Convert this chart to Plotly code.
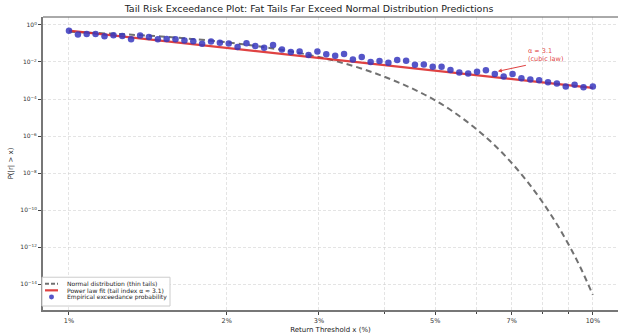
import plotly.graph_objects as go

# Empirical exceedance points (x in %, probability)
emp_x = [1.000, 1.040, 1.081, 1.124, 1.169, 1.216, 1.264, 1.314, 1.367, 1.421,
         1.478, 1.536, 1.597, 1.661, 1.727, 1.795, 1.867, 1.941, 2.018, 2.098,
         2.182, 2.268, 2.358, 2.452, 2.550, 2.651, 2.756, 2.866, 2.980, 3.098,
         3.222, 3.350, 3.483, 3.621, 3.765, 3.915, 4.071, 4.232, 4.401, 4.575,
         4.757, 4.947, 5.143, 5.348, 5.560, 5.781, 6.011, 6.250, 6.499, 6.757,
         7.026, 7.305, 7.596, 7.897, 8.211, 8.538, 8.877, 9.230, 9.597, 10.000]
emp_y = [0.494, 0.302, 0.329, 0.329, 0.248, 0.280, 0.257, 0.171, 0.267, 0.227,
         0.171, 0.177, 0.171, 0.144, 0.130, 0.0957, 0.127, 0.108, 0.0993, 0.0636,
         0.104, 0.072, 0.0583, 0.0815, 0.0473, 0.0343, 0.037, 0.0237, 0.037, 0.0261,
         0.0217, 0.0268, 0.0137, 0.0185, 0.00997, 0.0113, 0.00915, 0.0128, 0.0117, 0.00715,
         0.00742, 0.00558, 0.00558, 0.00371, 0.00273, 0.00235, 0.00301, 0.00353, 0.00226, 0.00162,
         0.00226, 0.00131, 0.00112, 0.00103, 0.000802, 0.000683, 0.000472, 0.000582, 0.000433, 0.000472]

# Power-law fit line (endpoints)
power_x = [1.0, 10.0]
power_y = [0.49, 4.0e-4]

# Normal distribution curve
normal_x = [1.0, 1.5, 2.0, 2.5, 3.0, 3.5, 4.0, 4.5, 5.0, 5.5, 6.0, 6.5, 7.0,
            7.5, 8.0, 8.5, 9.0, 9.5, 10.0]
normal_y = [0.43, 0.238, 0.115, 0.049, 0.0185, 0.0059, 1.6e-3, 3.9e-4, 8.5e-5,
            1.5e-5, 2.3e-6, 3.1e-7, 3.5e-8, 3.4e-9, 2.9e-10, 2.1e-11, 1.3e-12,
            6.5e-14, 2.6e-15]

x_tick_vals = [1, 2, 3, 5, 7, 10]
x_tick_text = ["1%", "2%", "3%", "5%", "7%", "10%"]
x_minor_vals = [4, 6, 8, 9]
y_tick_vals = [1, 1e-2, 1e-4, 1e-6, 1e-8, 1e-10, 1e-12, 1e-14]
y_tick_text = ["10<sup>0</sup>", "10<sup>\u22122</sup>", "10<sup>\u22124</sup>", "10<sup>\u22126</sup>",
               "10<sup>\u22128</sup>", "10<sup>\u221210</sup>", "10<sup>\u221212</sup>", "10<sup>\u221214</sup>"]

series_names = ["Normal distribution (thin tails)",
                "Power law fit (tail index \u03b1 \u2248 3.1)",
                "Empirical exceedance probability"]

FONT = "DejaVu Sans"
GRAY = "rgba(105,105,105,0.95)"
RED = "rgba(220,45,45,0.9)"
BLUE = "rgba(55,55,190,0.85)"

W, H = 618, 334
ML, MR, MT, MB = 43, 0, 17, 22


def px(xp):
    return (xp - ML) / (W - ML - MR)


def py(yp):
    return (H - MB - yp) / (H - MT - MB)


fig = go.Figure()
fig.add_trace(go.Scatter(
    x=normal_x, y=normal_y, mode="lines", line_shape="spline",
    name=series_names[0], showlegend=False,
    line=dict(color=GRAY, width=2, dash="6px,4px")))
fig.add_trace(go.Scatter(
    x=power_x, y=power_y, mode="lines",
    name=series_names[1], showlegend=False,
    line=dict(color=RED, width=2.2)))
fig.add_trace(go.Scatter(
    x=emp_x, y=emp_y, mode="markers",
    name=series_names[2], showlegend=False,
    marker=dict(color=BLUE, size=6.5, line=dict(width=0))))

fig.add_annotation(
    x=0.8187, y=-2.505, xref="x", yref="y",
    text="\u03b1 \u2248 3.1<br>(cubic law)",
    showarrow=True, arrowhead=2, arrowsize=0.8, arrowwidth=1,
    arrowcolor=RED,
    ax=28, ay=-6, xanchor="left", yanchor="bottom", align="left",
    font=dict(family=FONT, size=6.5, color=RED))

# manual compact legend
shapes = [
    dict(type="rect", xref="paper", yref="paper", x0=px(42), x1=px(170), y0=py(308), y1=py(279),
         fillcolor="rgba(255,255,255,0.9)", line=dict(color="#ccc", width=1), layer="above"),
    dict(type="line", xref="paper", yref="paper", x0=px(45), x1=px(58), y0=py(285.5), y1=py(285.5),
         line=dict(color=GRAY, width=2, dash="4px,2px"), layer="above"),
    dict(type="line", xref="paper", yref="paper", x0=px(45), x1=px(58), y0=py(292.2), y1=py(292.2),
         line=dict(color=RED, width=2.2), layer="above"),
    dict(type="circle", xref="paper", yref="paper", x0=px(49), x1=px(54), y0=py(301.5), y1=py(296.5),
         fillcolor=BLUE, line=dict(width=0), layer="above"),
    # thin top spine
    dict(type="line", xref="paper", yref="paper", x0=0, x1=1, y0=1, y1=1,
         line=dict(color="#555", width=1)),
]
for name, yp in zip(series_names, [285.5, 292.2, 299]):
    fig.add_annotation(x=px(65), y=py(yp), xref="paper", yref="paper", text=name,
                       showarrow=False, xanchor="left", yanchor="middle",
                       font=dict(family=FONT, size=6, color="#222"))

grid_color = "rgba(205,205,205,0.55)"
fig.update_layout(
    width=W, height=H,
    margin=dict(l=ML, r=MR, t=MT, b=MB),
    paper_bgcolor="white", plot_bgcolor="white",
    font=dict(family=FONT, size=7, color="#333"),
    title=dict(text="Tail Risk Exceedance Plot: Fat Tails Far Exceed Normal Distribution Predictions",
               x=0.5, xanchor="center", y=1 - 9 / H, yanchor="middle",
               font=dict(family=FONT, size=9.5, color="#222")),
    showlegend=False,
    shapes=shapes,
)
fig.update_xaxes(
    type="log", range=[-0.0496, 1.048],
    tickvals=x_tick_vals, ticktext=x_tick_text,
    ticks="outside", ticklen=3, tickcolor="#444", tickfont=dict(size=6.5, color="#333"),
    showgrid=True, gridcolor=grid_color, griddash="3px,2px", gridwidth=0.8,
    minor=dict(tickvals=x_minor_vals, ticks="outside", ticklen=2, tickcolor="#444",
               showgrid=True, gridcolor=grid_color, griddash="3px,2px", gridwidth=0.8),
    showline=True, linecolor="#777", linewidth=2, mirror=False, zeroline=False,
    title=dict(text="Return Threshold x (%)", font=dict(size=7, color="#222"), standoff=4),
)
fig.update_yaxes(
    type="log", range=[-15.4, 0.43],
    tickvals=y_tick_vals, ticktext=y_tick_text,
    ticks="outside", ticklen=3, tickcolor="#444", tickfont=dict(size=6, color="#333"),
    showgrid=True, gridcolor=grid_color, griddash="3px,2px", gridwidth=0.8,
    showline=True, linecolor="#777", linewidth=2, mirror=False, zeroline=False,
    title=dict(text="P(|r| > x)", font=dict(size=7, color="#222"), standoff=6),
)

fig.write_html("out.html")
